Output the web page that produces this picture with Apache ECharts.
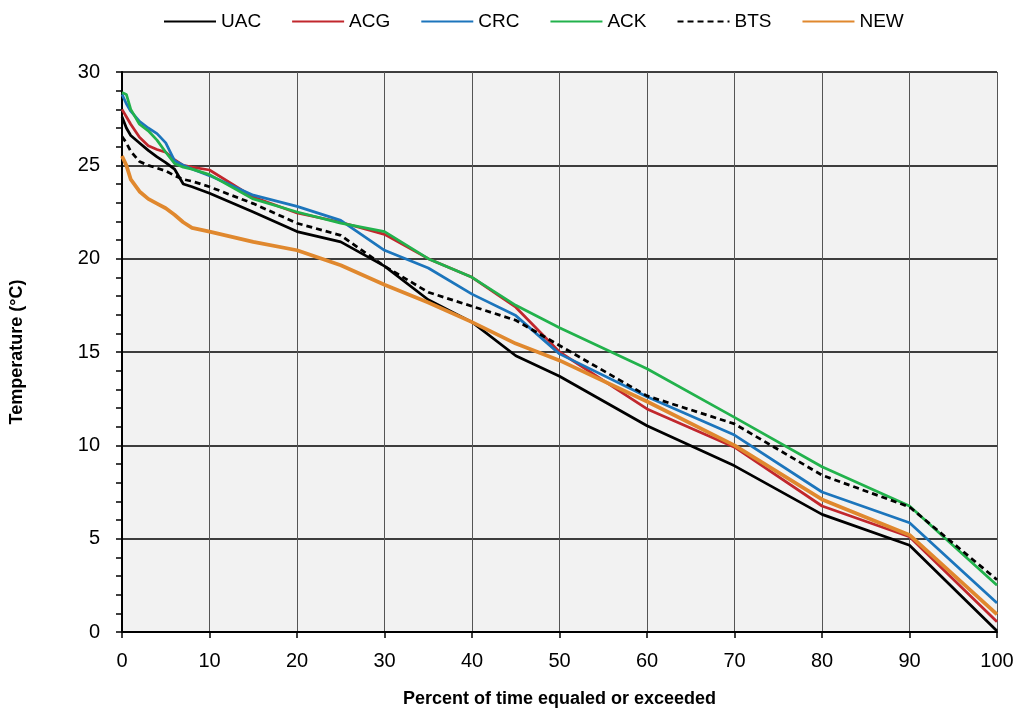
<!DOCTYPE html>
<html>
<head>
<meta charset="utf-8">
<script src="https://cdn.jsdelivr.net/npm/echarts@6/dist/echarts.min.js"></script>
<style>
html,body{margin:0;padding:0;background:#fff;}
#c{width:1018px;height:713px;}
</style>
</head>
<body>
<div id="c"></div>
<script>
const pct = [0, 0.5, 1, 2, 3, 4, 5, 6, 7, 8, 10, 15, 20, 25, 30, 35, 40, 45, 50, 60, 70, 80, 90, 100];
const UAC = [27.6, 27.0, 26.6, 26.2, 25.8, 25.45, 25.15, 24.8, 24.0, 23.85, 23.5, 22.5, 21.45, 20.9, 19.6, 17.8, 16.6, 14.8, 13.7, 11.05, 8.9, 6.3, 4.65, 0.05];
const ACG = [28.0, 27.6, 27.2, 26.5, 26.05, 25.85, 25.7, 25.3, 25.0, 24.9, 24.75, 23.3, 22.45, 21.95, 21.3, 20.0, 19.0, 17.4, 15.0, 11.95, 9.9, 6.75, 5.1, 0.55];
const CRC = [28.8, 28.3, 27.9, 27.35, 27.0, 26.7, 26.2, 25.25, 25.0, 24.8, 24.45, 23.4, 22.8, 22.05, 20.45, 19.5, 18.1, 16.95, 14.9, 12.6, 10.55, 7.5, 5.85, 1.55];
const ACK = [28.9, 28.8, 28.0, 27.2, 26.85, 26.35, 25.7, 25.1, 24.9, 24.8, 24.5, 23.2, 22.5, 21.9, 21.45, 20.0, 19.0, 17.5, 16.3, 14.1, 11.5, 8.85, 6.75, 2.5];
const BTS = [26.55, 26.2, 25.75, 25.2, 25.0, 24.85, 24.7, 24.45, 24.25, 24.15, 23.85, 22.95, 21.9, 21.25, 19.6, 18.2, 17.45, 16.7, 15.35, 12.65, 11.15, 8.4, 6.7, 2.8];
const NEW = [25.5, 25.0, 24.25, 23.6, 23.2, 22.95, 22.7, 22.35, 21.95, 21.65, 21.45, 20.9, 20.45, 19.65, 18.6, 17.65, 16.6, 15.45, 14.55, 12.35, 10.0, 7.1, 5.2, 0.95];
const names = ['UAC', 'ACG', 'CRC', 'ACK', 'BTS', 'NEW'];

const pairs = arr => pct.map((p, i) => [p, arr[i]]);
const FONT = "'Liberation Sans Narrow','Liberation Sans',sans-serif";

function mk(name, arr, color, width, type) {
  return {
    name: name, type: 'line', data: pairs(arr), symbol: 'none', smooth: false,
    lineStyle: { color: color, width: width, type: type || 'solid' },
    itemStyle: { color: color }, z: 3
  };
}

const chart = echarts.init(document.getElementById('c'), null, { renderer: 'canvas' });
chart.setOption({
  animation: false,
  backgroundColor: '#ffffff',
  legend: {
    top: 7, left: 158, itemWidth: 52, itemHeight: 12, itemGap: 30,
    itemStyle: { opacity: 0 },
    textStyle: { fontFamily: FONT, fontSize: 19, color: '#000' },
    data: names
  },
  grid: { left: 122, right: 21, top: 72, bottom: 81, show: true, backgroundColor: '#f2f2f2', borderWidth: 0 },
  xAxis: {
    type: 'value', min: 0, max: 100, interval: 10,
    name: 'Percent of time equaled or exceeded', nameLocation: 'middle', nameGap: 58,
    nameTextStyle: { fontFamily: FONT, fontSize: 18, fontWeight: 'bold', color: '#000' },
    axisLine: { show: true, lineStyle: { color: '#000', width: 2 } },
    axisTick: { show: true, length: 6, lineStyle: { color: '#000', width: 1.5 } },
    axisLabel: { fontFamily: FONT, fontSize: 20, color: '#000', margin: 19 },
    splitLine: { show: true, lineStyle: { color: '#555', width: 1 } }
  },
  yAxis: {
    type: 'value', min: 0, max: 30, interval: 5,
    name: 'Temperature (°C)', nameLocation: 'middle', nameGap: 96,
    nameTextStyle: { fontFamily: FONT, fontSize: 18, fontWeight: 'bold', color: '#000' },
    axisLine: { show: true, lineStyle: { color: '#000', width: 2 } },
    axisTick: { show: true, length: 6, lineStyle: { color: '#000', width: 1.5 } },
    minorTick: { show: true, splitNumber: 5, length: 6, lineStyle: { color: '#000', width: 1.5 } },
    axisLabel: { fontFamily: FONT, fontSize: 20, color: '#000', margin: 22 },
    splitLine: { show: true, lineStyle: { color: '#000', width: 1.5 } }
  },
  series: [
    mk('UAC', UAC, '#000000', 2.75),
    mk('ACG', ACG, '#c1272d', 2.75),
    mk('CRC', CRC, '#1c75bc', 2.75),
    mk('ACK', ACK, '#22b24c', 2.75),
    mk('BTS', BTS, '#000000', 2.75, [6, 4]),
    mk('NEW', NEW, '#e0882e', 3.75)
  ]
});
</script>
</body>
</html>
